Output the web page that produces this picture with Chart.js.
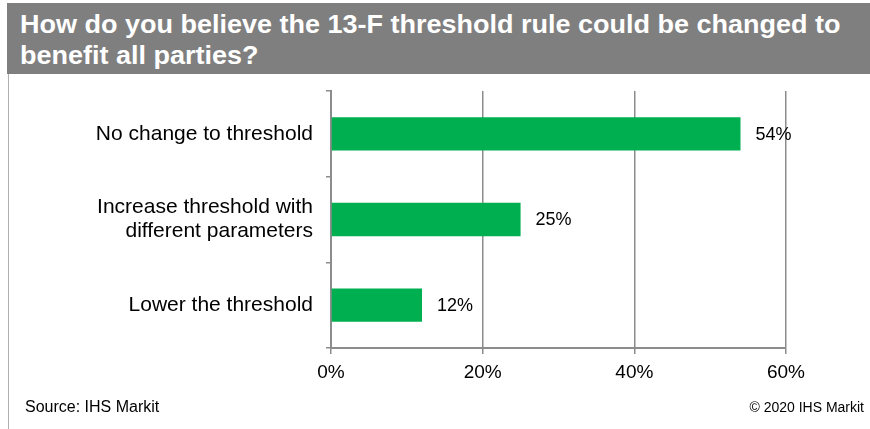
<!DOCTYPE html>
<html>
<head>
<meta charset="utf-8">
<script src="https://cdn.jsdelivr.net/npm/chart.js@4/dist/chart.umd.min.js"></script>
<style>
html,body{margin:0;padding:0;background:#fff;}
#wrap{position:relative;width:870px;height:429px;overflow:hidden;font-family:"Liberation Sans",Arial,sans-serif;}
#band{position:absolute;left:7px;top:3px;width:863px;height:71px;background:#7f7f7f;}
#title{position:absolute;left:20px;top:9px;color:#fff;font-weight:bold;font-size:25px;line-height:31px;white-space:nowrap;transform:scaleX(1.08);transform-origin:0 0;}
#lborder{position:absolute;left:8px;top:74px;width:1px;height:355px;background:#b0b0b0;}
#src{position:absolute;left:25px;top:398px;font-size:16px;color:#000;}
#copy{position:absolute;right:6px;top:399px;font-size:14px;color:#000;}
canvas{position:absolute;left:0;top:0;}
</style>
</head>
<body>
<div id="wrap">
<canvas id="c" width="870" height="429"></canvas>
<div id="band"></div>
<div id="title">How do you believe the 13-F threshold rule could be changed to<br>benefit all parties?</div>
<div id="lborder"></div>
<div id="src">Source: IHS Markit</div>
<div id="copy">© 2020 IHS Markit</div>
</div>
<script>
const categories = [["No change to threshold"], ["Increase threshold with", "different parameters"], ["Lower the threshold"]];
const values = [54, 25, 12];
const xTicks = [0, 20, 40, 60];

const labelPlugin = {
  id: 'valLabels',
  afterDatasetsDraw(chart) {
    const ctx = chart.ctx;
    const meta = chart.getDatasetMeta(0);
    ctx.save();
    ctx.font = '18px "Liberation Sans", Arial, sans-serif';
    ctx.fillStyle = '#000';
    ctx.textAlign = 'left';
    ctx.textBaseline = 'middle';
    meta.data.forEach((bar, i) => {
      ctx.fillText(values[i] + '%', bar.x + 15, bar.y + 1);
    });
    ctx.restore();
  }
};

new Chart(document.getElementById('c'), {
  type: 'bar',
  data: {
    labels: categories,
    datasets: [{
      data: values,
      backgroundColor: '#00b050',
      borderWidth: 0,
      categoryPercentage: 0.39,
      barPercentage: 1
    }]
  },
  options: {
    indexAxis: 'y',
    responsive: false,
    animation: false,
    layout: { padding: { left: 0, right: 84, top: 91, bottom: 42 } },
    plugins: { legend: { display: false }, tooltip: { enabled: false } },
    scales: {
      x: {
        min: 0, max: 60,
        afterBuildTicks: s => { s.ticks = xTicks.map(v => ({ value: v })); },
        afterFit: s => { s.height = 39; },
        grid: { color: '#8c8c8c', lineWidth: 1.5, drawTicks: true, tickLength: 6 },
        border: { color: '#8c8c8c', width: 2 },
        ticks: { padding: 7, color: '#000', font: { family: '"Liberation Sans", Arial, sans-serif', size: 19 }, callback: v => v + '%' }
      },
      y: {
        afterFit: s => { s.width = 331; },
        grid: { drawOnChartArea: false, drawTicks: true, tickLength: 5, color: '#8c8c8c', lineWidth: 1.5 },
        border: { color: '#8c8c8c', width: 2 },
        ticks: { padding: 13, color: '#000', font: { family: '"Liberation Sans", Arial, sans-serif', size: 21, lineHeight: 1.15 } }
      }
    }
  },
  plugins: [labelPlugin]
});
</script>
</body>
</html>
